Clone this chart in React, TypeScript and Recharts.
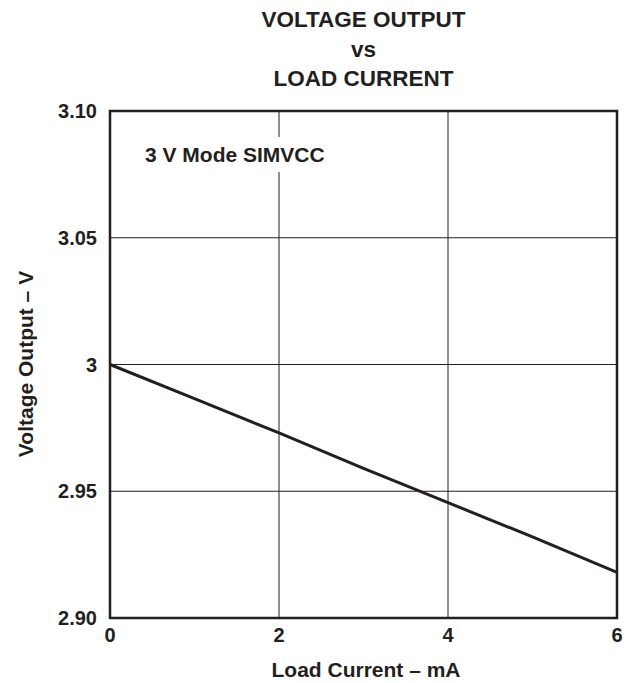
import { LineChart, Line, XAxis, YAxis, CartesianGrid, ReferenceArea } from 'recharts';

// Load current (mA) vs voltage output (V), 3 V mode SIMVCC
const loadCurrent = [0, 1, 2, 3, 4, 5, 6];
const voltageOut = [3.0, 2.9865, 2.973, 2.959, 2.9455, 2.932, 2.918];
const yTicks = [2.9, 2.95, 3.0, 3.05, 3.1];
const yTickLabels = ['2.90', '2.95', '3', '3.05', '3.10'];
const xTicks = [0, 2, 4, 6];
const titleLines = ['VOLTAGE OUTPUT', 'vs', 'LOAD CURRENT'];

const data = loadCurrent.map((x, i) => ({ x, v: voltageOut[i] }));

const FONT = '"Liberation Sans", Arial, sans-serif';
const INK = '#231f20';

export default function App() {
  return (
    <div style={{ position: 'absolute', left: 0, top: 0, width: 634, height: 683, background: '#fff' }}>
      <LineChart
        width={634}
        height={683}
        data={data}
        margin={{ top: 111, right: 17, bottom: 35, left: 47 }}
      >
        <CartesianGrid stroke={INK} strokeWidth={1} />
        <XAxis
          dataKey="x"
          type="number"
          domain={[0, 6]}
          ticks={xTicks}
          height={30}
          axisLine={false}
          tickLine={false}
          tick={{ fill: INK, fontSize: 20, fontWeight: 700, fontFamily: FONT }}
          tickMargin={4}
        />
        <YAxis
          type="number"
          domain={[2.9, 3.1]}
          ticks={yTicks}
          width={63}
          axisLine={false}
          tickLine={false}
          tickFormatter={(v: number) => yTickLabels[yTicks.indexOf(v)] ?? String(v)}
          tick={{ fill: INK, fontSize: 20, fontWeight: 700, fontFamily: FONT }}
          tickMargin={7}
        />
        <ReferenceArea x1={0} x2={6} y1={2.9} y2={3.1} fill="none" stroke={INK} strokeWidth={2.5} ifOverflow="visible" />
        <Line
          type="linear"
          dataKey="v"
          stroke={INK}
          strokeWidth={3}
          dot={false}
          isAnimationActive={false}
        />
      </LineChart>
      <svg
        width={634}
        height={683}
        style={{ position: 'absolute', left: 0, top: 0, pointerEvents: 'none' }}
        fontFamily={FONT}
        fontWeight={700}
        fill={INK}
      >
        {titleLines.map((t, i) => (
          <text key={t} x={363.5} y={27 + i * 29.5} textAnchor="middle" fontSize={22.5}>
            {t}
          </text>
        ))}
        <rect x={140} y={137} width={192} height={35} fill="#fff" />
        <text x={145} y={162} fontSize={21}>3 V Mode SIMVCC</text>
        <text x={366} y={677} textAnchor="middle" fontSize={21}>Load Current – mA</text>
        <text x={33} y={364} textAnchor="middle" fontSize={21} transform="rotate(-90 33 364)">
          Voltage Output – V
        </text>
      </svg>
    </div>
  );
}
